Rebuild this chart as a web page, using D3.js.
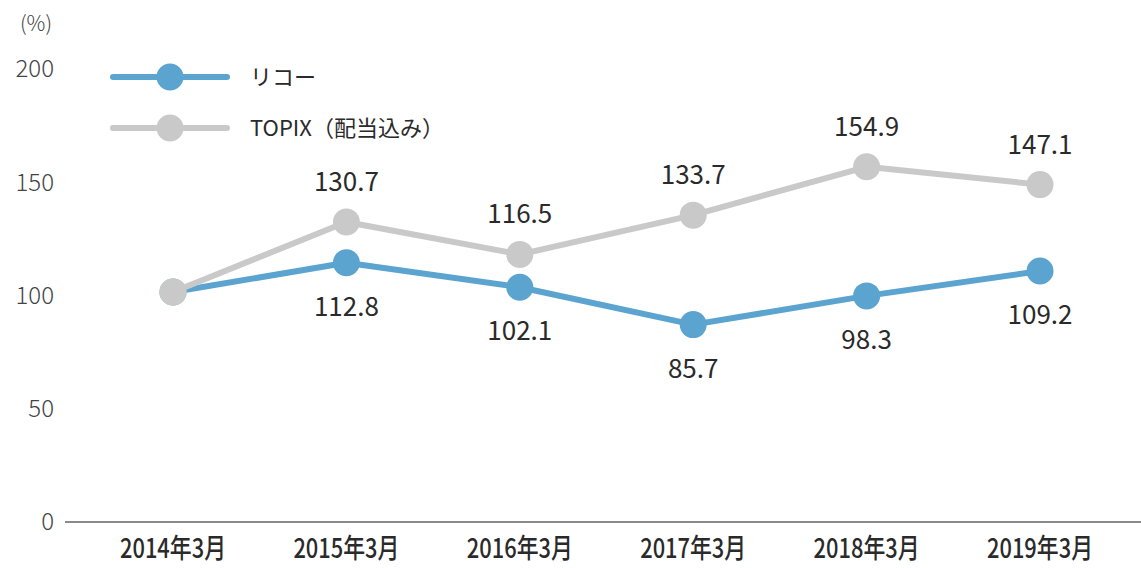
<!DOCTYPE html>
<html>
<head>
<meta charset="utf-8">
<script src="https://cdn.jsdelivr.net/npm/d3@7"></script>
<style>
  body { margin: 0; background: #fff; }
  text { font-family: "Noto Sans CJK JP", "Noto Sans", sans-serif; }
</style>
</head>
<body>
<div id="chart"></div>
<script>
var categories = ["2014年3月", "2015年3月", "2016年3月", "2017年3月", "2018年3月", "2019年3月"]
var ricohValues = [100, 112.8, 102.1, 85.7, 98.3, 109.2]
var topixValues = [100, 130.7, 116.5, 133.7, 154.9, 147.1]
var yTicks = [0, 50, 100, 150, 200]
var seriesNames = ["リコー", "TOPIX（配当込み）"]

var width = 1141
var height = 568
var blue = "#5ba4cf"
var grey = "#c9c9c9"

var svg = d3.select("#chart").append("svg")
    .attr("width", width)
    .attr("height", height)

var x = d3.scalePoint()
    .domain(categories)
    .range([173, 1040])
var y = d3.scaleLinear()
    .domain([0, 200])
    .range([520, 64])

// y tick labels, no axis line
var tickY = d3.scaleLinear()
    .domain([0, 200])
    .range([522, 69])
svg.append("g").selectAll("text")
    .data(yTicks)
    .enter()
    .append("text")
    .attr("x", 54)
    .attr("y", d => tickY(d))
    .attr("dy", "0.35em")
    .attr("text-anchor", "end")
    .attr("fill", "#444")
    .style("font-size", "24px")
    .style("font-weight", 300)
    .text(d => d)

svg.append("text")
    .attr("x", 36)
    .attr("y", 24)
    .attr("dy", "0.35em")
    .attr("text-anchor", "middle")
    .attr("fill", "#444")
    .style("font-size", "21px")
    .style("font-weight", 300)
    .text("(%)")

// baseline
svg.append("line")
    .attr("x1", 65)
    .attr("x2", width)
    .attr("y1", 522)
    .attr("y2", 522)
    .attr("stroke", "#8a8a8a")
    .attr("stroke-width", 2)

// x labels
svg.append("g").selectAll("text")
    .data(categories)
    .enter()
    .append("text")
    .attr("x", d => x(d))
    .attr("y", 558)
    .attr("text-anchor", "middle")
    .attr("fill", "#2a2a2a")
    .attr("textLength", 106)
    .attr("lengthAdjust", "spacingAndGlyphs")
    .style("font-size", "27px")
    .style("font-weight", 500)
    .text(d => d)

var line = d3.line()
    .x((d, i) => x(categories[i]))
    .y(d => y(d))

function drawSeries(values, color, labelOffset) {
    svg.append("path")
        .datum(values)
        .attr("d", line)
        .attr("fill", "none")
        .attr("stroke", color)
        .attr("stroke-width", 6)
        .attr("stroke-linejoin", "round")
    svg.append("g").selectAll("circle")
        .data(values)
        .enter()
        .append("circle")
        .attr("cx", (d, i) => x(categories[i]))
        .attr("cy", d => y(d))
        .attr("r", 13.5)
        .attr("fill", color)
    svg.append("g").selectAll("text")
        .data(values.slice(1))
        .enter()
        .append("text")
        .attr("x", (d, i) => x(categories[i + 1]))
        .attr("y", d => y(d) + labelOffset)
        .attr("dy", "0.35em")
        .attr("text-anchor", "middle")
        .attr("fill", "#2a2a2a")
        .style("font-size", "26px")
        .text(d => d.toFixed(1))
}

drawSeries(ricohValues, blue, 44)
drawSeries(topixValues, grey, -40)
// first point: grey circle drawn over blue
svg.append("circle")
    .attr("cx", x(categories[0]))
    .attr("cy", y(topixValues[0]))
    .attr("r", 13.5)
    .attr("fill", grey)

// legend
var legend = svg.append("g")
var legendColors = [blue, grey]
seriesNames.forEach(function(name, i) {
    var ly = 77 + i * 51
    legend.append("line")
        .attr("x1", 113).attr("x2", 227)
        .attr("y1", ly).attr("y2", ly)
        .attr("stroke", legendColors[i])
        .attr("stroke-width", 6)
        .attr("stroke-linecap", "round")
    legend.append("circle")
        .attr("cx", 170).attr("cy", ly)
        .attr("r", 13.5)
        .attr("fill", legendColors[i])
    legend.append("text")
        .attr("x", 250).attr("y", ly)
        .attr("dy", "0.35em")
        .attr("fill", "#2a2a2a")
        .style("font-size", "22px")
        .text(name)
})
</script>
</body>
</html>
